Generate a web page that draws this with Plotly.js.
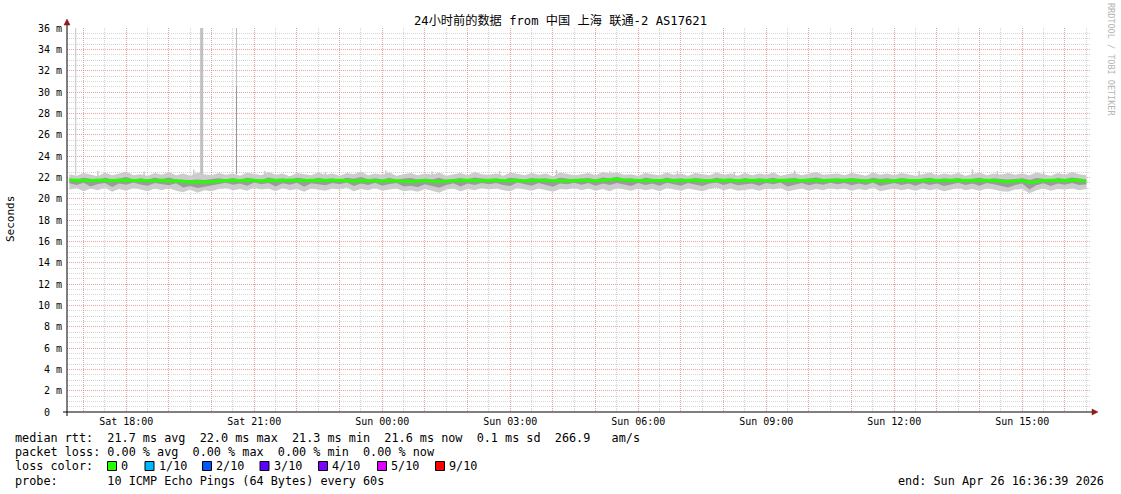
<!DOCTYPE html>
<html>
<head>
<meta charset="utf-8">
<script src="https://cdn.plot.ly/plotly-3.0.1.min.js"></script>
<style>html,body{margin:0;padding:0;background:#fff;}#chart{width:1121px;height:494px;}</style>
</head>
<body>
<div id="chart"></div>
<script>
// ---------------- DATA ----------------
const startTime = '2026-04-25 16:40:00';   // first sample (10-minute steps)
const stepMinutes = 10;

const median = [
 21.74,21.70,21.72,21.68,21.74,21.71,21.67,21.72,21.70,21.69,21.73,21.70,
 21.69,21.72,21.66,21.68,21.60,21.56,21.58,21.54,21.60,21.64,21.70,21.72,
 21.68,21.73,21.70,21.66,21.72,21.69,21.71,21.74,21.70,21.68,21.72,21.70,
 21.66,21.70,21.73,21.68,21.64,21.70,21.72,21.69,21.66,21.71,21.68,21.64,
 21.62,21.66,21.70,21.64,21.60,21.66,21.70,21.68,21.72,21.70,21.66,21.72,
 21.74,21.70,21.68,21.72,21.66,21.70,21.74,21.71,21.68,21.70,21.66,21.72,
 21.70,21.74,21.68,21.72,21.76,21.84,21.74,21.70,21.72,21.68,21.71,21.74,
 21.70,21.68,21.72,21.70,21.74,21.69,21.66,21.70,21.73,21.70,21.68,21.72,
 21.70,21.74,21.71,21.68,21.72,21.70,21.66,21.70,21.74,21.70,21.68,21.71,
 21.72,21.70,21.74,21.68,21.70,21.72,21.69,21.66,21.70,21.73,21.70,21.68,
 21.71,21.74,21.70,21.68,21.72,21.70,21.74,21.69,21.70,21.72,21.68,21.70,
 21.62,21.66,21.70,21.52,21.64,21.70,21.72,21.68,21.70,21.74,21.70,21.66
];
const smokeMax = [
 22.30,22.15,22.40,22.25,22.10,22.45,22.20,22.35,22.55,22.20,22.30,22.15,
 22.40,22.25,22.50,22.20,22.35,22.15,22.45,22.30,22.20,22.40,22.25,22.35,
 22.15,22.45,22.30,22.20,22.50,22.25,22.35,22.10,22.40,22.30,22.20,22.45,
 22.25,22.35,22.15,22.40,22.30,22.55,22.20,22.35,22.25,22.45,22.15,22.30,
 22.40,22.20,22.35,22.25,22.45,22.15,22.30,22.40,22.20,22.50,22.30,22.25,
 22.35,22.15,22.45,22.30,22.20,22.40,22.25,22.35,22.10,22.45,22.30,22.20,
 22.30,22.40,22.20,22.50,22.35,22.45,22.25,22.30,22.15,22.40,22.30,22.20,
 22.45,22.25,22.35,22.15,22.40,22.30,22.20,22.45,22.25,22.35,22.15,22.40,
 22.20,22.35,22.25,22.45,22.15,22.30,22.40,22.20,22.35,22.50,22.25,22.30,
 22.35,22.20,22.40,22.30,22.15,22.45,22.25,22.35,22.20,22.40,22.30,22.15,
 22.30,22.45,22.20,22.35,22.25,22.40,22.15,22.30,22.45,22.20,22.35,22.25,
 22.40,22.25,22.35,22.20,22.45,22.30,22.15,22.40,22.25,22.50,22.30,22.20
];
const smokeMin = [
 20.85,21.00,20.70,20.95,20.80,21.05,20.65,20.90,20.75,21.00,20.85,20.70,
 20.95,20.80,21.00,20.75,20.60,20.85,20.55,20.80,20.70,20.90,21.00,20.80,
 20.90,20.75,21.05,20.85,20.95,20.70,21.00,20.80,20.90,20.65,20.95,20.85,
 20.75,20.95,20.85,21.05,20.70,20.90,20.80,21.00,20.75,20.85,20.95,20.70,
 20.80,20.65,20.90,20.75,20.55,20.85,20.95,20.70,20.90,20.80,21.00,20.85,
 20.95,20.80,20.70,21.00,20.85,20.75,20.95,20.80,20.65,20.90,20.85,21.00,
 20.80,20.95,20.75,20.90,20.70,21.00,20.85,20.75,20.95,20.80,20.90,20.70,
 21.00,20.85,20.75,20.95,20.80,20.70,20.90,21.05,20.80,20.95,20.75,20.85,
 20.90,20.75,20.95,20.85,21.00,20.70,20.85,20.95,20.75,20.90,20.80,21.00,
 20.85,20.95,20.75,20.90,20.80,21.05,20.70,20.85,20.95,20.80,20.90,20.75,
 20.95,20.80,20.90,20.70,20.85,21.00,20.80,20.90,20.75,20.95,20.85,20.70,
 20.65,20.85,20.90,20.50,20.80,20.95,20.75,20.90,20.85,20.95,20.80,20.90
];
const coreMax = [
 21.88,21.80,21.95,21.84,21.78,21.96,21.82,21.90,22.02,21.80,21.92,21.79,
 21.95,21.84,21.98,21.80,21.76,21.74,21.80,21.76,21.84,21.92,21.82,21.94,
 21.80,21.96,21.86,21.78,21.98,21.84,21.92,21.78,21.95,21.86,21.80,21.96,
 21.84,21.92,21.78,21.95,21.86,22.02,21.82,21.92,21.79,21.96,21.78,21.88,
 21.94,21.80,21.88,21.79,21.96,21.76,21.88,21.94,21.82,21.98,21.88,21.84,
 21.92,21.78,21.96,21.86,21.80,21.94,21.84,21.92,21.76,21.96,21.86,21.80,
 21.88,21.94,21.80,21.98,21.92,22.06,21.86,21.92,21.78,21.95,21.86,21.80,
 21.96,21.84,21.92,21.78,21.94,21.86,21.80,21.96,21.84,21.92,21.78,21.94,
 21.80,21.92,21.84,21.96,21.78,21.88,21.94,21.80,21.92,21.98,21.84,21.88,
 21.92,21.80,21.94,21.86,21.78,21.96,21.84,21.92,21.80,21.94,21.86,21.78,
 21.88,21.96,21.80,21.92,21.84,21.94,21.78,21.88,21.96,21.80,21.92,21.84,
 21.80,21.84,21.92,21.76,21.94,21.86,21.78,21.94,21.84,21.98,21.88,21.80
];
const coreMin = [
 21.45,21.28,21.50,21.15,21.38,21.48,21.10,21.42,21.30,21.52,21.32,21.22,
 21.46,21.35,21.25,21.44,21.05,21.18,21.00,21.12,21.24,21.40,21.50,21.30,
 21.42,21.22,21.52,21.35,21.48,21.15,21.44,21.30,21.50,21.12,21.45,21.35,
 21.25,21.48,21.35,21.52,21.18,21.42,21.28,21.50,21.22,21.38,21.48,21.15,
 21.20,21.10,21.35,21.18,21.02,21.28,21.45,21.15,21.42,21.28,21.48,21.35,
 21.48,21.28,21.18,21.52,21.35,21.22,21.48,21.30,21.12,21.42,21.35,21.50,
 21.30,21.48,21.22,21.42,21.28,21.46,21.35,21.18,21.48,21.28,21.42,21.22,
 21.50,21.35,21.22,21.48,21.30,21.18,21.42,21.52,21.28,21.48,21.25,21.35,
 21.42,21.22,21.48,21.35,21.52,21.15,21.35,21.48,21.25,21.42,21.30,21.50,
 21.35,21.48,21.25,21.42,21.28,21.52,21.18,21.35,21.48,21.28,21.42,21.22,
 21.48,21.28,21.42,21.18,21.35,21.50,21.28,21.42,21.22,21.48,21.35,21.22,
 21.05,21.28,21.42,20.85,21.25,21.45,21.18,21.42,21.30,21.48,21.28,21.35
];

// light streaks above the band (time, highest value)
const lightStreakTimes = ['2026-04-25 17:20','2026-04-25 18:25','2026-04-25 19:35','2026-04-25 21:15',
  '2026-04-25 22:40','2026-04-26 00:05','2026-04-26 01:10','2026-04-26 02:45','2026-04-26 04:05',
  '2026-04-26 05:20','2026-04-26 06:55','2026-04-26 08:15','2026-04-26 09:40','2026-04-26 11:00',
  '2026-04-26 12:35','2026-04-26 13:50','2026-04-26 14:25','2026-04-26 15:30'];
const lightStreakHigh = [22.6,22.55,22.7,22.6,22.5,22.65,22.55,22.6,22.7,22.55,22.6,22.5,22.65,
  22.55,22.6,22.75,22.6,22.55];

// isolated outliers (light smoke reaching off the top, one darker)
const spikeTimes = ['2026-04-25 16:49:00','2026-04-25 19:46:00','2026-04-25 20:35:00'];
const spikeBase  = [22.2, 22.3, 22.3];
const spikeTop   = [40, 40, 40];
const darkSpikeTimes = ['2026-04-25 20:35:00'];
const darkSpikeTop   = [30.5];

const yTickVals = [0,2,4,6,8,10,12,14,16,18,20,22,24,26,28,30,32,34,36];
const yTickText = ['0\u00a0\u00a0','2 m','4 m','6 m','8 m','10 m','12 m','14 m','16 m','18 m','20 m',
                   '22 m','24 m','26 m','28 m','30 m','32 m','34 m','36 m'];
const xTickVals = ['2026-04-25 17:00','2026-04-25 18:00','2026-04-25 19:00','2026-04-25 20:00',
  '2026-04-25 21:00','2026-04-25 22:00','2026-04-25 23:00','2026-04-26 00:00','2026-04-26 01:00',
  '2026-04-26 02:00','2026-04-26 03:00','2026-04-26 04:00','2026-04-26 05:00','2026-04-26 06:00',
  '2026-04-26 07:00','2026-04-26 08:00','2026-04-26 09:00','2026-04-26 10:00','2026-04-26 11:00',
  '2026-04-26 12:00','2026-04-26 13:00','2026-04-26 14:00','2026-04-26 15:00','2026-04-26 16:00'];
const xTickText = ['','Sat 18:00','','','Sat 21:00','','','Sun 00:00','','','Sun 03:00','','',
  'Sun 06:00','','','Sun 09:00','','','Sun 12:00','','','Sun 15:00',''];

const titleText = '24小时前的数据 from 中国 上海 联通-2 AS17621';
const legendLines = [
  'median rtt:  21.7 ms avg  22.0 ms max  21.3 ms min  21.6 ms now  0.1 ms sd  266.9   am/s',
  'packet loss: 0.00 % avg  0.00 % max  0.00 % min  0.00 % now',
  'loss color:',
  'probe:       10 ICMP Echo Pings (64 Bytes) every 60s'
];
const lossLabels = ['0','1/10','2/10','3/10','4/10','5/10','9/10'];
const lossColors = ['#26ff00','#00b8ff','#0059ff','#5e00ff','#7e00ff','#dd00ff','#ff0000'];
const endText = 'end: Sun Apr 26 16:36:39 2026';

// ---------------- BUILD ----------------
const t0 = new Date(startTime.replace(' ','T')).getTime();
function fmt(ms){
  const d = new Date(ms);
  const p = n => String(n).padStart(2,'0');
  return d.getFullYear()+'-'+p(d.getMonth()+1)+'-'+p(d.getDate())+' '+p(d.getHours())+':'+p(d.getMinutes())+':00';
}
const times = median.map((_, i) => fmt(t0 + i*stepMinutes*60000));

const FONT = 'DejaVu Sans Mono, Noto Sans CJK SC, monospace';
const L = 67, R = 30, T = 28, B = 82, W = 1121, H = 494;
const pw = W - L - R, ph = H - T - B;
const px = x => (x - L) / pw;
const py = y => (H - B - y) / ph;

const NOLINE = {width:0, color:'rgba(0,0,0,0)'};
const traces = [];
traces.push({x: times, y: smokeMin, type:'scatter', mode:'lines', line:NOLINE, hoverinfo:'skip', showlegend:false});
traces.push({x: times, y: smokeMax, type:'scatter', mode:'lines', fill:'tonexty', fillcolor:'rgb(204,204,204)', line:NOLINE, hoverinfo:'skip', showlegend:false});

function segs(ts, a, b){
  const xs = [], ys = [];
  ts.forEach((t, i) => { xs.push(t, t, null); ys.push(a[i], b[i], null); });
  return {xs, ys};
}
const ls = segs(lightStreakTimes, lightStreakHigh.map(() => 22.0), lightStreakHigh);
traces.push({x: ls.xs, y: ls.ys, type:'scatter', mode:'lines', line:{color:'rgb(200,200,200)', width:1.5}, hoverinfo:'skip', showlegend:false});

traces.push({x: times, y: coreMin, type:'scatter', mode:'lines', line:NOLINE, hoverinfo:'skip', showlegend:false});
traces.push({x: times, y: coreMax, type:'scatter', mode:'lines', fill:'tonexty', fillcolor:'rgb(155,155,155)', line:NOLINE, hoverinfo:'skip', showlegend:false});

const spikeWidths = [1, 3, 1];
spikeTimes.forEach((t, i) => {
  traces.push({x:[t,t], y:[spikeBase[i], spikeTop[i]], type:'scatter', mode:'lines',
    line:{color:'rgb(192,192,192)', width: spikeWidths[i]}, hoverinfo:'skip', showlegend:false});
});
darkSpikeTimes.forEach((t, i) => {
  traces.push({x:[t,t], y:[22.3, darkSpikeTop[i]], type:'scatter', mode:'lines',
    line:{color:'rgb(150,150,150)', width:1}, hoverinfo:'skip', showlegend:false});
});
traces.push({x: times, y: median, type:'scatter', mode:'lines', line:{color:'#26ff00', width:3}, hoverinfo:'skip', showlegend:false});

const majorGrid = 'rgba(255,110,110,0.5)';
const minorGrid = 'rgba(160,160,160,0.45)';

const annotations = [];
const rowsY = [438, 452, 466, 480.5];
const LF = {family:FONT, size:11.8, color:'#000'};
legendLines.forEach((s, i) => {
  annotations.push({xref:'paper', yref:'paper', x:px(14), y:py(rowsY[i]), xanchor:'left', yanchor:'middle',
    text: s.replace(/ /g,'\u00a0'), showarrow:false, font:LF, borderpad:0});
});
const boxX = [107.5, 145, 202.5, 260, 318.5, 377.5, 435.5];
const shapes = [];
lossLabels.forEach((lab, i) => {
  annotations.push({xref:'paper', yref:'paper', x:px(boxX[i]+12.5), y:py(rowsY[2]), xanchor:'left', yanchor:'middle',
    text: lab, showarrow:false, font:LF, borderpad:0});
  shapes.push({type:'rect', xref:'paper', yref:'paper', x0:px(boxX[i]), x1:px(boxX[i]+9), y0:py(rowsY[2]+4.5), y1:py(rowsY[2]-4.5),
    fillcolor: lossColors[i], line:{color:'#000', width:1}, layer:'above'});
});
annotations.push({xref:'paper', yref:'paper', x:px(1105), y:py(rowsY[3]), xanchor:'right', yanchor:'middle',
  text: endText.replace(/ /g,'\u00a0'), showarrow:false, font:LF, borderpad:0});
annotations.push({xref:'paper', yref:'paper', x:px(10), y:py(219), xanchor:'center', yanchor:'middle', textangle:-90,
  text:'Seconds', showarrow:false, font:{family:FONT, size:11, color:'#000'}, borderpad:0});
annotations.push({xref:'paper', yref:'paper', x:px(1111), y:py(59), xanchor:'center', yanchor:'middle', textangle:90,
  text:'RRDTOOL / TOBI OETIKER'.replace(/ /g,'\u00a0'), showarrow:false, font:{family:FONT, size:8.5, color:'#b4b4b4'}, borderpad:0});

// axes with overhang + arrows
shapes.push({type:'line', xref:'paper', yref:'paper', x0:px(63), x1:px(1093), y0:0, y1:0, line:{color:'#000', width:1}, layer:'above'});
shapes.push({type:'line', xref:'paper', yref:'paper', x0:0, x1:0, y0:py(416), y1:py(24), line:{color:'#000', width:1}, layer:'above'});
shapes.push({type:'path', xref:'paper', yref:'paper',
  path:'M '+px(1092)+','+py(409)+' L '+px(1098)+','+py(412)+' L '+px(1092)+','+py(415)+' Z',
  fillcolor:'#8b1a1a', line:{color:'#8b1a1a', width:0.5}, layer:'above'});
shapes.push({type:'path', xref:'paper', yref:'paper',
  path:'M '+px(64)+','+py(25)+' L '+px(67)+','+py(19)+' L '+px(70)+','+py(25)+' Z',
  fillcolor:'#8b1a1a', line:{color:'#8b1a1a', width:0.5}, layer:'above'});

const layout = {
  width: W, height: H,
  margin: {l:L, r:R, t:T, b:B, pad:0},
  paper_bgcolor:'#fff', plot_bgcolor:'#fff',
  showlegend:false,
  title: {text: titleText, xref:'container', yref:'container', x:0.5, xanchor:'center', y:1-21/H, yanchor:'middle',
          font:{family:FONT, size:12.2, color:'#000'}},
  xaxis: {
    type:'date', range:['2026-04-25 16:36:39','2026-04-26 16:36:39'],
    tickmode:'array', tickvals:xTickVals, ticktext:xTickText,
    showgrid:true, gridcolor:majorGrid, griddash:'1px,1px', gridwidth:1,
    minor:{dtick:1800000, tick0:'2026-04-25 00:00:00', showgrid:true, gridcolor:minorGrid, griddash:'1px,1px', gridwidth:1, ticks:''},
    ticks:'', showline:false, zeroline:false,
    tickfont:{family:FONT, size:10, color:'#000'},
    ticklabelstandoff:2,
    fixedrange:true
  },
  yaxis: {
    range:[0,36], tickmode:'array', tickvals:yTickVals, ticktext:yTickText,
    showgrid:true, gridcolor:majorGrid, griddash:'1px,1px', gridwidth:1,
    minor:{dtick:0.5, tick0:0, showgrid:true, gridcolor:minorGrid, griddash:'1px,1px', gridwidth:1, ticks:''},
    ticks:'', showline:false, zeroline:false,
    tickfont:{family:FONT, size:10, color:'#000'},
    ticklabelstandoff:4,
    fixedrange:true
  },
  annotations: annotations,
  shapes: shapes
};

Plotly.newPlot('chart', traces, layout, {staticPlot:true, displayModeBar:false});
</script>
</body>
</html>
